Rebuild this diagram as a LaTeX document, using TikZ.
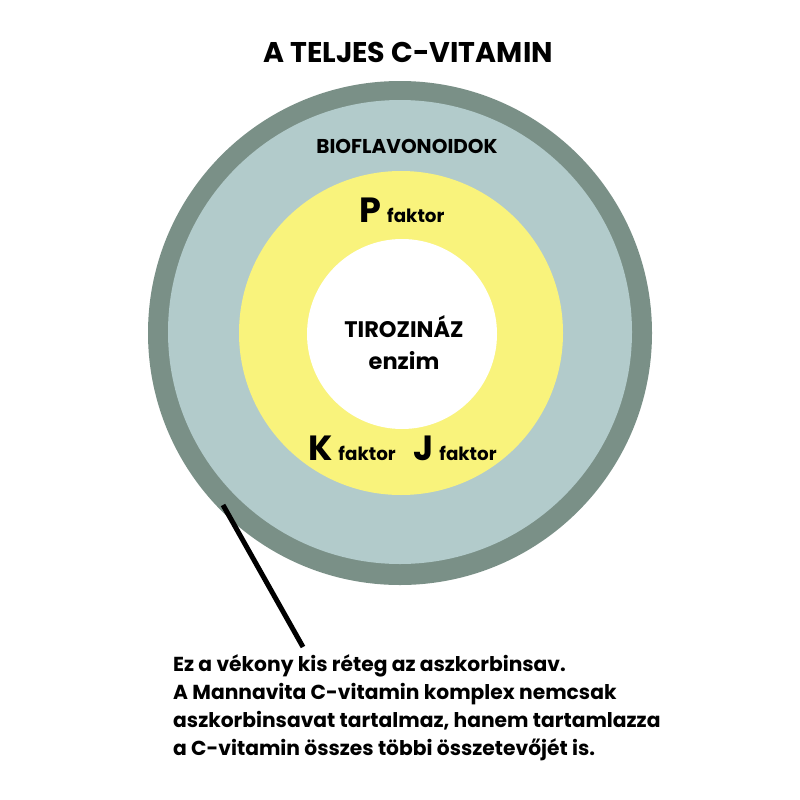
\documentclass[tikz,border=0pt]{standalone}
\usepackage{fontspec}
\setmainfont{Poppins}
\definecolor{ringdark}{HTML}{7A9087}
\definecolor{ringlight}{HTML}{B2CBCB}
\definecolor{core}{HTML}{F9F37C}
\begin{document}
\begin{tikzpicture}[x=1pt,y=-1pt,
  lbl/.style={inner sep=0pt, font=\bfseries}]
\useasboundingbox[fill=white] (0,0) rectangle (800,800);
\node[lbl, font=\bfseries\fontsize{28.5}{32}\selectfont] (title) at (408,52) {A TELJES C-VITAMIN};
\fill[ringdark] (400,333) circle (252);
\fill[ringlight] (400,332) circle (232);
\fill[core] (401,333) circle (162);
\fill[white] (402,334) circle (95);
\node[lbl, font=\bfseries\fontsize{20}{24}\selectfont] (bio) at (407,146) {BIOFLAVONOIDOK};
\node[inner sep=0pt, anchor=base] (p) at (402,222) {\fontsize{35}{36}\bfseries\selectfont P\,\fontsize{18.3}{20}\selectfont faktor};
\node[lbl, font=\bfseries\fontsize{22.5}{26}\selectfont] (tir) at (404,327) {TIROZINÁZ};
\node[lbl, font=\bfseries\fontsize{22.5}{26}\selectfont] (enz) at (404,361) {enzim};
\node[inner sep=0pt, anchor=base] (k) at (352,460) {\fontsize{35}{36}\bfseries\selectfont K\,\fontsize{18.3}{20}\selectfont faktor};
\node[inner sep=0pt, anchor=base] (j) at (455,460) {\fontsize{35}{36}\bfseries\selectfont J\,\fontsize{18.3}{20}\selectfont faktor};
\coordinate (edge) at (223,505);
\node[inner sep=0pt, anchor=north west, align=left, font=\bfseries\fontsize{20.25}{28}\selectfont] (note) at (173,654)
  {Ez a vékony kis réteg az aszkorbinsav.\\
   A Mannavita C-vitamin komplex nemcsak\\
   aszkorbinsavat tartalmaz, hanem tartamlazza\\
   a C-vitamin összes többi összetevőjét is.};
\coordinate (lineend) at (303,647);
\draw[line width=5pt] (edge) -- (lineend);
\end{tikzpicture}
\end{document}
